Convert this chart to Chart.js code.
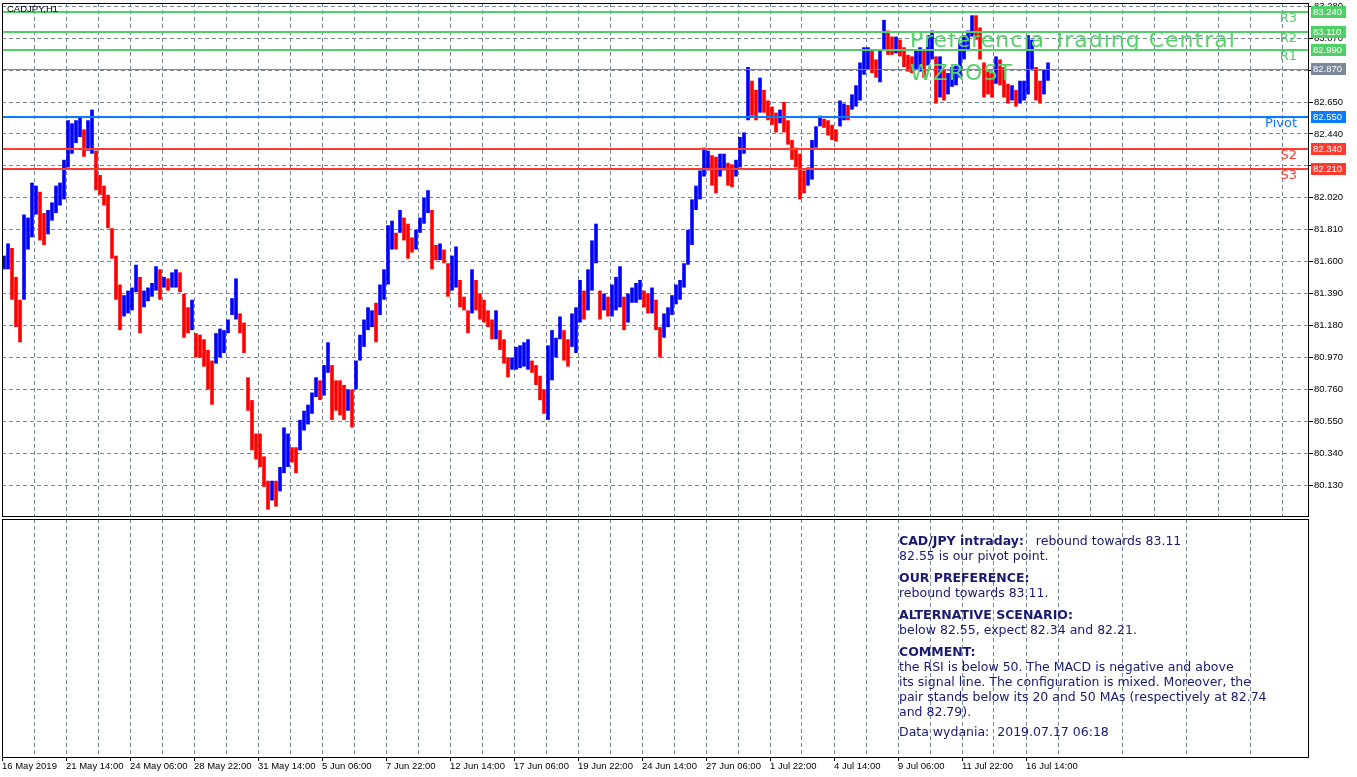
<!DOCTYPE html>
<html>
<head>
<meta charset="utf-8">
<title>CADJPY,H1</title>
<script src="https://cdn.jsdelivr.net/npm/chart.js@4.4.1/dist/chart.umd.min.js"></script>
<style>
  html, body { margin: 0; padding: 0; background: #fff; overflow: hidden; }
  #wrap { position: relative; width: 1357px; height: 777px; }
  canvas { position: absolute; left: 0; }
  #main { top: 0; }
  #sub { top: 518px; }
  .title { position: absolute; left: 7px; top: 4px; font: 9.5px/10px "Liberation Sans", Arial, sans-serif; color: #000; }
  .mark { position: absolute; left: 910px; font: 22px/22px "DejaVu Sans", sans-serif; letter-spacing: 1px; color: #56d26a; white-space: nowrap; }
  #note { position: absolute; left: 899px; top: 533px; font: 12.5px/15px "DejaVu Sans", sans-serif; color: #191970; white-space: nowrap; }
  #note p { margin: 7px 0 0 0; }
  #note p:first-child { margin-top: 0; }
  #note p.last { margin-top: 5px; }
</style>
</head>
<body>
<div id="wrap">
  <canvas id="main" width="1357" height="518"></canvas>
  <canvas id="sub" width="1357" height="259"></canvas>
  <div class="title">CADJPY,H1</div>
  <div class="mark" style="top:29px">Preferencja Trading Central</div>
  <div class="mark" style="top:62px">WZROST</div>
  <div id="note">
    <p><b>CAD/JPY intraday:</b>&nbsp;&nbsp; rebound towards 83.11<br>82.55 is our pivot point.</p>
    <p><b>OUR PREFERENCE:</b><br>rebound towards 83.11.</p>
    <p><b>ALTERNATIVE SCENARIO:</b><br>below 82.55, expect 82.34 and 82.21.</p>
    <p><b>COMMENT:</b><br>the RSI is below 50. The MACD is negative and above<br>its signal line. The configuration is mixed. Moreover, the<br>pair stands below its 20 and 50 MAs (respectively at 82.74<br>and 82.79).</p>
    <p class="last">Data wydania:&nbsp; 2019.07.17 06:18</p>
  </div>
</div>
<script>
// price bars, each one covers ~4 hours
const highs = [
  81.64, 81.72, 81.69, 81.50, 81.35, 81.91, 81.89, 82.12, 82.10, 82.06,
  81.92, 81.94, 81.99, 82.10, 82.12, 82.27, 82.53, 82.51, 82.53, 82.55,
  82.47, 82.53, 82.60, 82.33, 82.17, 82.10, 82.04, 81.82, 81.64, 81.45,
  81.38, 81.41, 81.43, 81.58, 81.50, 81.41, 81.43, 81.46, 81.57, 81.55,
  81.50, 81.49, 81.53, 81.55, 81.53, 81.39, 81.30, 81.35, 81.13, 81.12,
  81.09, 81.02, 80.95, 81.13, 81.16, 81.15, 81.22, 81.36, 81.49, 81.26,
  81.20, 80.84, 80.69, 80.47, 80.47, 80.32, 80.16, 80.16, 80.16, 80.25,
  80.51, 80.47, 80.38, 80.38, 80.56, 80.62, 80.66, 80.74, 80.84, 80.82,
  80.92, 81.07, 80.92, 80.82, 80.82, 80.79, 80.76, 80.76, 80.95, 81.12,
  81.22, 81.30, 81.28, 81.33, 81.45, 81.55, 81.84, 81.87, 81.79, 81.94,
  81.89, 81.85, 81.76, 81.81, 81.89, 82.02, 82.07, 81.94, 81.71, 81.72,
  81.68, 81.59, 81.64, 81.70, 81.48, 81.37, 81.28, 81.55, 81.48, 81.39,
  81.35, 81.28, 81.22, 81.28, 81.15, 81.09, 80.97, 80.97, 81.04, 81.05,
  81.07, 81.09, 80.95, 80.92, 80.85, 80.76, 81.05, 81.15, 81.10, 81.24,
  81.15, 81.09, 81.26, 81.30, 81.48, 81.41, 81.55, 81.74, 81.85, 81.41,
  81.39, 81.37, 81.45, 81.50, 81.57, 81.37, 81.39, 81.43, 81.46, 81.48,
  81.41, 81.39, 81.43, 81.35, 81.17, 81.26, 81.30, 81.38, 81.45, 81.48,
  81.59, 81.81, 82.01, 82.10, 82.20, 82.35, 82.33, 82.30, 82.29, 82.31,
  82.31, 82.25, 82.24, 82.27, 82.42, 82.45, 82.88, 82.79, 82.73, 82.81,
  82.73, 82.66, 82.62, 82.58, 82.60, 82.65, 82.53, 82.40, 82.35, 82.31,
  82.20, 82.22, 82.40, 82.49, 82.56, 82.54, 82.53, 82.50, 82.47, 82.66,
  82.64, 82.63, 82.70, 82.76, 82.91, 83.01, 83.01, 82.99, 82.93, 82.99,
  83.19, 83.12, 83.08, 83.08, 83.06, 83.01, 82.96, 82.95, 82.99, 83.01,
  82.99, 83.09, 83.12, 82.95, 82.95, 82.86, 82.84, 82.88, 82.89, 83.04,
  83.09, 83.12, 83.22, 83.22, 83.14, 82.91, 82.86, 82.84, 82.95, 82.93,
  82.88, 82.77, 82.76, 82.73, 82.79, 82.79, 83.09, 83.06, 82.88, 82.79,
  82.86, 82.91
];
const lows = [
  81.55, 81.55, 81.35, 81.17, 81.07, 81.35, 81.68, 81.76, 81.91, 81.74,
  81.71, 81.78, 81.87, 81.92, 81.97, 82.01, 82.22, 82.31, 82.38, 82.42,
  82.29, 82.33, 82.31, 82.07, 82.04, 81.97, 81.82, 81.62, 81.35, 81.15,
  81.24, 81.26, 81.28, 81.40, 81.13, 81.30, 81.34, 81.37, 81.41, 81.35,
  81.43, 81.41, 81.43, 81.43, 81.40, 81.10, 81.13, 81.15, 80.97, 80.97,
  80.91, 80.76, 80.66, 80.93, 80.97, 81.00, 81.13, 81.25, 81.22, 81.13,
  81.00, 80.62, 80.36, 80.30, 80.25, 80.12, 79.97, 80.03, 79.99, 80.09,
  80.21, 80.25, 80.28, 80.21, 80.36, 80.49, 80.53, 80.60, 80.71, 80.69,
  80.72, 80.87, 80.56, 80.62, 80.59, 80.56, 80.62, 80.51, 80.76, 80.95,
  81.04, 81.15, 81.17, 81.07, 81.25, 81.35, 81.45, 81.68, 81.68, 81.79,
  81.74, 81.62, 81.66, 81.68, 81.79, 81.85, 81.92, 81.55, 81.61, 81.61,
  81.59, 81.37, 81.41, 81.43, 81.30, 81.28, 81.13, 81.26, 81.28, 81.22,
  81.20, 81.17, 81.09, 81.09, 81.02, 80.93, 80.84, 80.89, 80.89, 80.90,
  80.91, 80.89, 80.87, 80.79, 80.69, 80.60, 80.56, 80.82, 80.97, 81.09,
  80.95, 80.91, 81.04, 81.00, 81.20, 81.22, 81.28, 81.41, 81.59, 81.22,
  81.28, 81.24, 81.24, 81.28, 81.30, 81.15, 81.20, 81.33, 81.33, 81.35,
  81.30, 81.26, 81.26, 81.15, 80.97, 81.10, 81.17, 81.25, 81.32, 81.35,
  81.43, 81.58, 81.71, 81.94, 82.01, 82.16, 82.20, 82.10, 82.05, 82.16,
  82.20, 82.10, 82.09, 82.16, 82.22, 82.31, 82.53, 82.56, 82.53, 82.58,
  82.58, 82.53, 82.50, 82.45, 82.51, 82.45, 82.37, 82.27, 82.22, 82.01,
  82.05, 82.10, 82.14, 82.35, 82.49, 82.48, 82.43, 82.40, 82.39, 82.49,
  82.53, 82.53, 82.60, 82.62, 82.66, 82.83, 82.86, 82.84, 82.81, 82.78,
  82.99, 82.96, 82.96, 82.97, 82.95, 82.88, 82.85, 82.84, 82.86, 82.85,
  82.81, 82.89, 82.93, 82.64, 82.68, 82.66, 82.70, 82.75, 82.76, 82.81,
  82.93, 82.99, 83.08, 83.06, 82.93, 82.68, 82.70, 82.68, 82.77, 82.76,
  82.68, 82.64, 82.66, 82.62, 82.64, 82.66, 82.70, 82.86, 82.66, 82.64,
  82.70, 82.79
];
const dateLabels = [
  "16 May 2019", "21 May 14:00", "24 May 06:00", "28 May 22:00", "31 May 14:00",
  "5 Jun 06:00", "7 Jun 22:00", "12 Jun 14:00", "17 Jun 06:00", "19 Jun 22:00",
  "24 Jun 14:00", "27 Jun 06:00", "1 Jul 22:00", "4 Jul 14:00", "9 Jul 06:00",
  "11 Jul 22:00", "16 Jul 14:00"
];
const priceTicks = [80.13, 80.34, 80.55, 80.76, 80.97, 81.18, 81.39, 81.60,
  81.81, 82.02, 82.23, 82.44, 82.65, 82.86, 83.07, 83.28];
const levelNames = ["R3", "R2", "R1", "Pivot", "S2", "S3"];
const levelValues = [83.24, 83.11, 82.99, 82.55, 82.34, 82.21];
const lastPrice = 82.87;

const SLOTS = 326.75;   // slots across the whole plot width
const GRID = "#778899";
const UP = "#0000ff", DOWN = "#ff0000";
Chart.defaults.font.family = "'Liberation Sans', Arial, sans-serif";

const bars = highs.map((h, i) => ({ x: i + 0.5, y: [lows[i], h] }));
const barColors = highs.map((h, i) => {
  if (i === 0) return UP;
  return (h + lows[i]) >= (highs[i - 1] + lows[i - 1]) ? UP : DOWN;
});

function levelColor(name) {
  if (name[0] === "R") return "#4fd066";
  if (name[0] === "S") return "#ff3b30";
  return "#0a7aff";
}

const gridTicks = (s) => {
  const t = [];
  for (let v = 0; v <= 320; v += 8) t.push({ value: v });
  s.ticks = t;
};
const gridColor = (ctx) => (ctx.tick && ctx.tick.value > 0 ? GRID : "transparent");
// no extra room for half labels at the scale ends
const noPad = (s) => { s.paddingTop = 0; s.paddingBottom = 0; s.paddingLeft = 0; s.paddingRight = 0; };

const framePlugin = {
  id: "frame",
  afterDraw(chart) {
    const { ctx, chartArea: a } = chart;
    ctx.save();
    ctx.strokeStyle = "#000";
    ctx.lineWidth = 1;
    ctx.strokeRect(a.left + 0.5, a.top + 0.5, a.right - a.left - 1, a.bottom - a.top);
    ctx.restore();
  },
};

const levelsPlugin = {
  id: "levels",
  afterDatasetsDraw(chart) {
    const { ctx, chartArea: a, scales: { y } } = chart;
    ctx.save();
    let py = Math.round(y.getPixelForValue(lastPrice)) + 0.5;
    ctx.strokeStyle = GRID;
    ctx.lineWidth = 1;
    ctx.beginPath(); ctx.moveTo(a.left, py); ctx.lineTo(a.right, py); ctx.stroke();
    ctx.font = "13px 'DejaVu Sans'";
    ctx.textAlign = "right";
    ctx.textBaseline = "middle";
    levelValues.forEach((v, i) => {
      const c = levelColor(levelNames[i]);
      py = Math.round(y.getPixelForValue(v));
      ctx.strokeStyle = c;
      ctx.lineWidth = 2;
      ctx.beginPath(); ctx.moveTo(a.left, py); ctx.lineTo(a.right, py); ctx.stroke();
      ctx.fillStyle = c;
      ctx.fillText(levelNames[i], a.right - 12, py + 7);
    });
    ctx.restore();
  },
  afterDraw(chart) {
    const { ctx, chartArea: a, scales: { y } } = chart;
    const box = (v, c) => {
      const py = Math.round(y.getPixelForValue(v));
      ctx.fillStyle = c;
      ctx.fillRect(a.right + 2, py - 6, 35, 12);
      ctx.fillStyle = "#fff";
      ctx.fillText(v.toFixed(3), a.right + 4, py);
    };
    ctx.save();
    ctx.font = "9.5px 'Liberation Sans'";
    ctx.textAlign = "left";
    ctx.textBaseline = "middle";
    levelValues.forEach((v, i) => box(v, levelColor(levelNames[i])));
    box(lastPrice, "#7a8898");
    ctx.restore();
  },
};

new Chart(document.getElementById("main"), {
  type: "bar",
  data: {
    datasets: [{
      data: bars,
      backgroundColor: barColors,
      borderWidth: 0,
      barPercentage: 0.9,
      categoryPercentage: 1,
    }],
  },
  options: {
    responsive: false,
    animation: false,
    devicePixelRatio: 1,
    layout: { padding: { left: 2, top: 3, right: 0, bottom: 2 } },
    plugins: { legend: { display: false }, tooltip: { enabled: false } },
    scales: {
      x: {
        type: "linear", min: 0, max: SLOTS, offset: false,
        afterBuildTicks: gridTicks,
        afterFit: (s) => { s.height = 0; noPad(s); },
        ticks: { display: false },
        grid: { offset: false, color: gridColor, drawTicks: false },
        border: { display: false, dash: [4, 3] },
      },
      y: {
        position: "right", min: 79.928, max: 83.301,
        afterBuildTicks: (s) => { s.ticks = priceTicks.map((v) => ({ value: v })); },
        afterFit: (s) => { s.width = 48; noPad(s); },
        ticks: {
          color: "#000", padding: 1, font: { size: 9.5 },
          callback: (v) => Number(v).toFixed(3),
        },
        grid: { color: GRID, tickLength: 4, tickColor: "#000", tickBorderDash: [] },
        border: { display: false, dash: [4, 3] },
      },
    },
  },
  plugins: [framePlugin, levelsPlugin],
});

new Chart(document.getElementById("sub"), {
  type: "scatter",
  data: { datasets: [{ data: [] }] },
  options: {
    responsive: false,
    animation: false,
    devicePixelRatio: 1,
    layout: { padding: { left: 2, top: 1, right: 0, bottom: 0 } },
    plugins: { legend: { display: false }, tooltip: { enabled: false } },
    scales: {
      x: {
        type: "linear", min: 0, max: SLOTS,
        afterBuildTicks: gridTicks,
        afterFit: (s) => { s.height = 20; noPad(s); },
        ticks: {
          autoSkip: false, maxRotation: 0, align: "start", padding: 0,
          color: "#000", font: { size: 9.5 },
          callback: (v) => (v % 16 === 0 ? dateLabels[v / 16] : ""),
        },
        grid: {
          color: gridColor, tickLength: 4, tickBorderDash: [],
          tickColor: (ctx) => (ctx.tick && ctx.tick.value % 16 === 0 ? "#000" : "transparent"),
        },
        border: { display: false, dash: [4, 3] },
      },
      y: {
        position: "right", min: 0, max: 1,
        afterFit: (s) => { s.width = 48; noPad(s); },
        ticks: { display: false },
        grid: { display: false },
        border: { display: false },
      },
    },
  },
  plugins: [framePlugin],
});
</script>
</body>
</html>
